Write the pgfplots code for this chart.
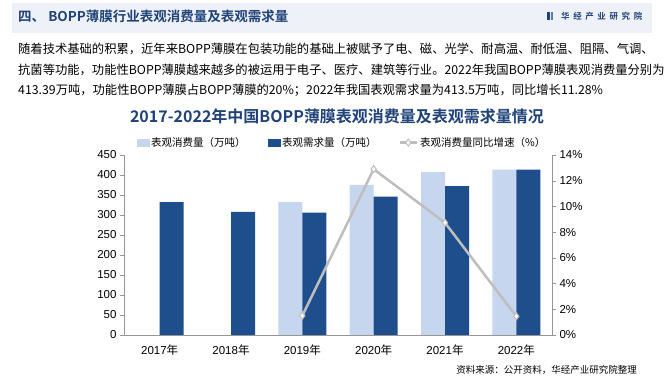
\documentclass[border=0pt]{standalone}
\usepackage{pgfplots}
\pgfplotsset{compat=1.18}
\usepackage{fontspec}
\setmainfont{Liberation Sans}
\newfontfamily\cjk{Noto Sans CJK SC}[BoldFont={Noto Sans CJK SC Bold}]
\definecolor{darkbar}{RGB}{31,78,140}
\definecolor{lightbar}{RGB}{197,214,238}
\definecolor{titleblue}{RGB}{31,66,120}
\definecolor{headbg}{RGB}{238,242,248}
\definecolor{axgray}{RGB}{150,150,150}
\definecolor{linegray}{RGB}{190,190,190}
\begin{document}
\begin{tikzpicture}[x=1pt,y=1pt]
\path[use as bounding box] (0,0) rectangle (670,380);
\fill[white] (0,0) rectangle (670,380);
\fill[headbg] (12,347) rectangle (652,377);
\node[anchor=west,inner sep=0,text=titleblue,font=\cjk\bfseries\fontsize{13.5}{14}\selectfont] at (18,364) {四、 BOPP薄膜行业表观消费量及表观需求量};
\fill[titleblue] (547,360) rectangle (549.5,368);
\fill[titleblue!70] (550.5,360) rectangle (553,368);
\node[anchor=west,inner sep=0,text=titleblue,font=\cjk\bfseries\fontsize{8.5}{9}\selectfont] at (561,364) {华\hspace{3.6pt}经\hspace{3.6pt}产\hspace{3.6pt}业\hspace{3.6pt}研\hspace{3.6pt}究\hspace{3.6pt}院};
\begin{scope}[every node/.style={anchor=west,inner sep=0,font=\cjk\fontsize{12.3}{13}\selectfont}]
\node at (18,331) {随着技术基础的积累，近年来BOPP薄膜在包装功能的基础上被赋予了电、磁、光学、耐高温、耐低温、阻隔、气调、};
\node at (18,310) {抗菌等功能，功能性BOPP薄膜越来越多的被运用于电子、医疗、建筑等行业。2022年我国BOPP薄膜表观消费量分别为};
\node at (18,290) {413.39万吨，功能性BOPP薄膜占BOPP薄膜的20\%；2022年我国表观需求量为413.5万吨，同比增长11.28\%};
\end{scope}
\node[inner sep=0,text=titleblue,font=\cjk\bfseries\fontsize{16}{17}\selectfont] at (337,264) {2017-2022年中国BOPP薄膜表观消费量及表观需求量情况};
\node[anchor=east,inner sep=0,font=\cjk\fontsize{9.5}{10}\selectfont] at (637,10) {资料来源：公开资料，华经产业研究院整理};
\begin{axis}[
  at={(124pt,45pt)}, anchor=south west, scale only axis,
  width=428pt, height=180pt,
  ybar=0pt, bar width=24pt,
  xmin=-0.5, xmax=5.5, ymin=0, ymax=450,
  ytick={0,50,...,450},
  xtick={0,1,2,3,4,5},
  xticklabels={2017{\cjk 年},2018{\cjk 年},2019{\cjk 年},2020{\cjk 年},2021{\cjk 年},2022{\cjk 年}},
  major x tick style={draw=none},
  extra x ticks={0.5,1.5,2.5,3.5,4.5},
  extra x tick labels={},
  extra x tick style={major tick length=4pt, tick style={draw=axgray}},
  axis y line*=left, axis x line*=bottom,
  axis line style={draw=axgray},
  tick style={draw=axgray},
  tick align=outside, major tick length=4pt,
  /pgf/number format/assume math mode=true,
  tick label style={font=\fontsize{11.5}{12}\selectfont},
  xticklabel style={yshift=-2pt},
  clip=false,
]
\addplot[fill=lightbar, draw=none] coordinates {(2,332) (3,375) (4,407) (5,413.39)};
\addplot[fill=darkbar, draw=none] coordinates {(0,332) (1,308) (2,306) (3,346) (4,372) (5,413.5)};
\end{axis}
\begin{axis}[
  at={(124pt,45pt)}, anchor=south west, scale only axis,
  width=428pt, height=180pt,
  xmin=-0.5, xmax=5.5, ymin=0, ymax=14,
  ytick={0,2,...,14},
  /pgf/number format/assume math mode=true,
  yticklabel={\pgfmathprintnumber{\tick}\%},
  axis y line*=right, axis x line=none,
  axis line style={draw=axgray},
  tick style={draw=axgray},
  tick align=outside, major tick length=4pt,
  tick label style={font=\fontsize{11.5}{12}\selectfont},
  legend style={at={(0.5,1)}, anchor=south, yshift=3pt, xshift=4pt, draw=none, fill=none,
    font=\cjk\fontsize{10.5}{11}\selectfont, legend columns=3,
    /tikz/every even column/.append style={column sep=20pt}},
  legend cell align=left,
  clip=false,
]
\addlegendimage{legend image code/.code={\fill[lightbar] (0pt,-3.5pt) rectangle (12pt,3.5pt);}}
\addlegendentry{表观消费量（万吨）}
\addlegendimage{legend image code/.code={\fill[darkbar] (0pt,-3.5pt) rectangle (12pt,3.5pt);}}
\addlegendentry{表观需求量（万吨）}
\addplot[linegray, line width=2.5pt, mark=diamond*, mark size=3.5pt,
  mark options={fill=white, draw=linegray, line width=1pt}]
  coordinates {(2,1.5) (3,12.9) (4,8.73) (5,1.45)};
\addlegendentry{表观消费量同比增速（\%）}
\end{axis}
\end{tikzpicture}
\end{document}
